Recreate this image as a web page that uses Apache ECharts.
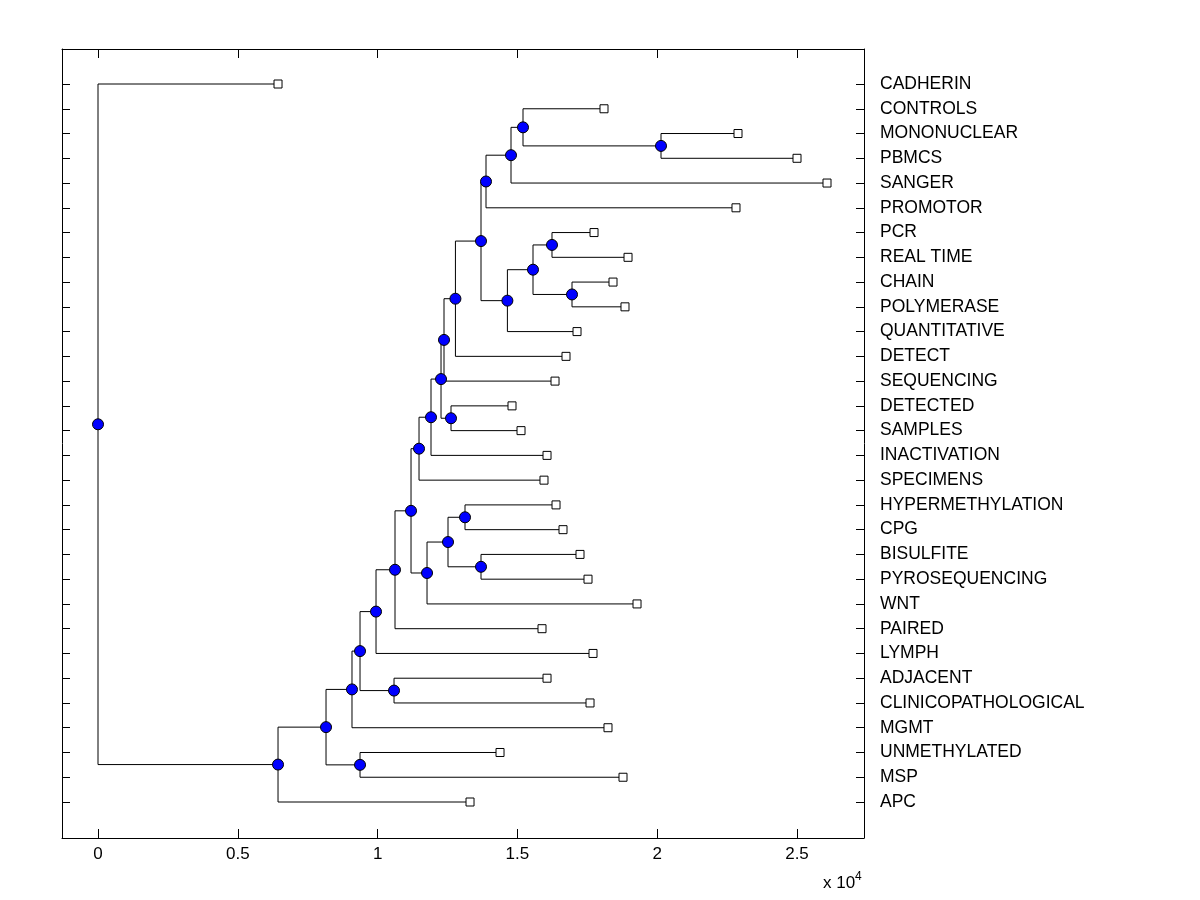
<!DOCTYPE html>
<html>
<head>
<meta charset="utf-8">
<script src="https://cdn.jsdelivr.net/npm/echarts@6/dist/echarts.min.js"></script>
<style>
  html, body { margin: 0; padding: 0; background: #fff; }
  #chart { width: 1200px; height: 900px; }
</style>
</head>
<body>
<div id="chart"></div>
<script>
// leaves, top to bottom
var leafNames = [
  'CADHERIN', 'CONTROLS', 'MONONUCLEAR', 'PBMCS', 'SANGER', 'PROMOTOR', 'PCR',
  'REAL TIME', 'CHAIN', 'POLYMERASE', 'QUANTITATIVE', 'DETECT', 'SEQUENCING',
  'DETECTED', 'SAMPLES', 'INACTIVATION', 'SPECIMENS', 'HYPERMETHYLATION', 'CPG',
  'BISULFITE', 'PYROSEQUENCING', 'WNT', 'PAIRED', 'LYMPH', 'ADJACENT',
  'CLINICOPATHOLOGICAL', 'MGMT', 'UNMETHYLATED', 'MSP', 'APC'
];
var leafDist = [
  6438, 18097, 22890, 25000, 26073, 22818, 17740,
  18956, 18419, 18848, 17132, 16738, 16345,
  14807, 15129, 16059, 15951, 16381, 16631,
  17239, 17525, 19278, 15880, 17704, 16059,
  17597, 18240, 14378, 18777, 13305
];

// internal nodes (index 30 onwards): children and distance
var mergePairs = [
  [2, 3], [1, 30], [31, 4], [32, 5], [6, 7], [8, 9], [34, 35], [36, 10],
  [33, 37], [38, 11], [39, 12], [13, 14], [40, 41], [42, 15], [43, 16],
  [17, 18], [19, 20], [45, 46], [47, 21], [44, 48], [49, 22], [50, 23],
  [24, 25], [51, 52], [53, 26], [27, 28], [54, 55], [56, 29], [0, 57]
];
var mergeDist = [
  20136, 15200, 14771, 13877, 16237, 16953, 15558, 14642,
  13698, 12783, 12375, 12625, 12268, 11910, 11481,
  13126, 13698, 12518, 11767, 11195, 10622, 9943,
  10587, 9371, 9084, 9371, 8155, 6438, 0
];

var xTicks = [0, 5000, 10000, 15000, 20000, 25000];

var nLeaf = leafNames.length;
var nodeX = leafDist.concat(mergeDist);
var nodeY = leafNames.map(function (n, i) { return nLeaf - i; });
mergePairs.forEach(function (p) {
  nodeY.push((nodeY[p[0]] + nodeY[p[1]]) / 2);
});

var edges = [];
var innerPts = [];
mergePairs.forEach(function (p, k) {
  var id = nLeaf + k;
  var px = nodeX[id], py = nodeY[id];
  innerPts.push([px, py]);
  p.forEach(function (c) {
    edges.push({ coords: [[px, py], [px, nodeY[c]], [nodeX[c], nodeY[c]]] });
  });
});
var leafPts = leafNames.map(function (n, i) { return [leafDist[i], nodeY[i]]; });
var leafPos = leafNames.map(function (n, i) { return nLeaf - i; });

var font = '"Liberation Sans", Arial, Helvetica, sans-serif';
var axisCommon = {
  type: 'value',
  axisLine: { show: true, onZero: false, lineStyle: { color: '#000', width: 1 } },
  splitLine: { show: false }
};

var chart = echarts.init(document.getElementById('chart'));
chart.setOption({
  backgroundColor: '#fff',
  animation: false,
  grid: { left: 62, top: 49, width: 802, height: 789 },
  xAxis: [
    Object.assign({}, axisCommon, {
      position: 'bottom', min: -1288, max: 27396,
      axisTick: { show: true, inside: true, length: 9, customValues: xTicks, lineStyle: { color: '#000' } },
      axisLabel: {
        show: true, customValues: xTicks, margin: 8,
        color: '#000', fontFamily: font, fontSize: 17,
        formatter: function (v) { return String(v / 10000); }
      }
    }),
    Object.assign({}, axisCommon, {
      position: 'top', min: -1288, max: 27396,
      axisTick: { show: true, inside: true, length: 9, customValues: xTicks, lineStyle: { color: '#000' } },
      axisLabel: { show: false }
    })
  ],
  yAxis: [
    Object.assign({}, axisCommon, {
      position: 'right', min: -0.454, max: 31.414,
      axisTick: { show: true, inside: true, length: 8, customValues: leafPos, lineStyle: { color: '#000' } },
      axisLabel: {
        show: true, customValues: leafPos, margin: 16,
        color: '#000', fontFamily: font, fontSize: 17.5,
        formatter: function (v) { return leafNames[nLeaf - v]; }
      }
    }),
    Object.assign({}, axisCommon, {
      position: 'left', min: -0.454, max: 31.414,
      axisTick: { show: true, inside: true, length: 8, customValues: leafPos, lineStyle: { color: '#000' } },
      axisLabel: { show: false }
    })
  ],
  graphic: [
    { type: 'text', left: 823, top: 875, style: { text: 'x 10', fontFamily: font, fontSize: 17, fill: '#000' } },
    { type: 'text', left: 855, top: 871, style: { text: '4', fontFamily: font, fontSize: 12, fill: '#000' } }
  ],
  series: [
    {
      type: 'lines',
      coordinateSystem: 'cartesian2d',
      polyline: true,
      silent: true,
      lineStyle: { color: '#000', width: 1, opacity: 1 },
      data: edges
    },
    {
      type: 'scatter',
      symbol: 'rect',
      symbolSize: 8,
      silent: true,
      itemStyle: { color: '#fff', borderColor: '#000', borderWidth: 1, opacity: 1 },
      data: leafPts
    },
    {
      type: 'scatter',
      symbol: 'circle',
      symbolSize: 11,
      silent: true,
      itemStyle: { color: '#0000ff', borderColor: '#000', borderWidth: 1, opacity: 1 },
      data: innerPts
    }
  ]
});
</script>
</body>
</html>
